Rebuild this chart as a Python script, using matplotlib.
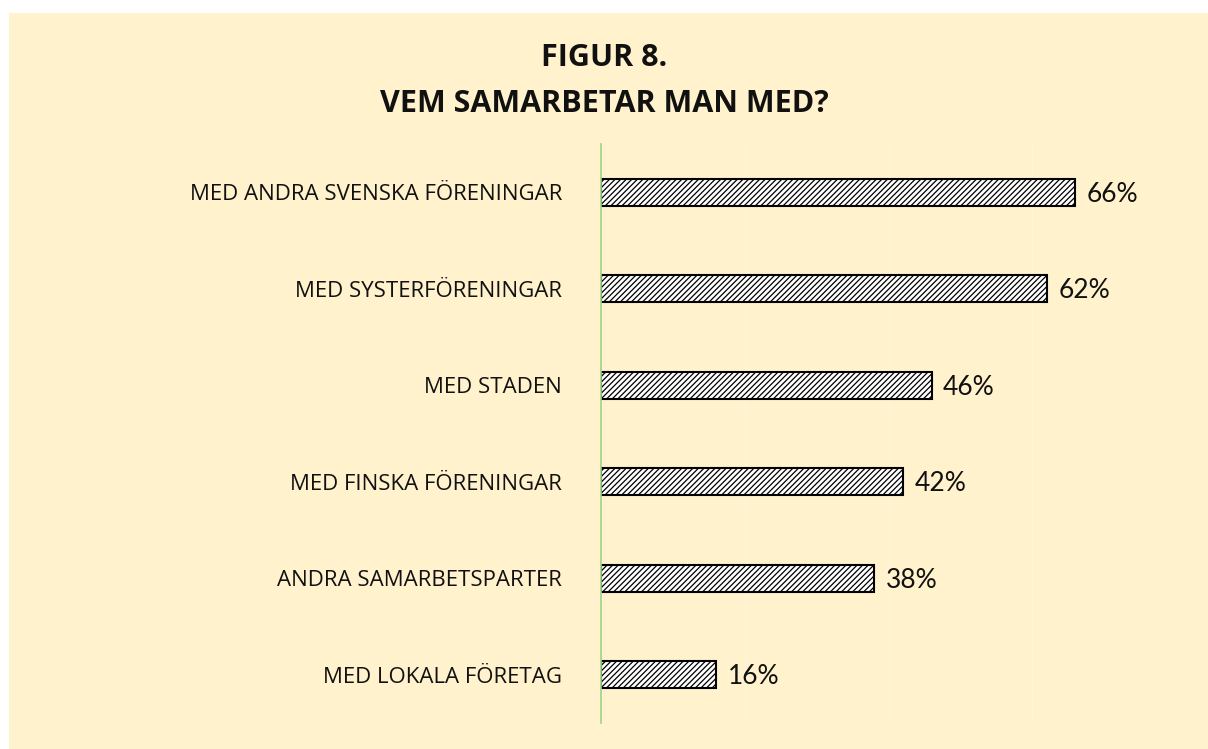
import matplotlib.pyplot as plt
from matplotlib.patches import Rectangle

# data, top to bottom as in the chart
categories = ["MED ANDRA SVENSKA FÖRENINGAR", "MED SYSTERFÖRENINGAR", "MED STADEN",
              "MED FINSKA FÖRENINGAR", "ANDRA SAMARBETSPARTER", "MED LOKALA FÖRETAG"]
values = [0.66, 0.62, 0.46, 0.42, 0.38, 0.16]
value_labels = ["66%", "62%", "46%", "42%", "38%", "16%"]
x_ticks = [0.0, 0.2, 0.4, 0.6, 0.8]

W, H = 1208, 749
fig = plt.figure(figsize=(W / 100, H / 100), dpi=100, facecolor="white")

# yellow panel behind the whole chart
panel = Rectangle((9 / W, 0), 1 - 9 / W, 1 - 13 / H, transform=fig.transFigure,
                  facecolor="#FFF2CC", edgecolor="none", zorder=-1)
fig.patches.append(panel)

fig.text(0.5, 1 - 58 / H, "FIGUR 8.", ha="center", va="center",
         fontsize=22, fontweight="bold", family="Open Sans", color="#111111")
fig.text(0.5, 1 - 104 / H, "VEM SAMARBETAR MAN MED?", ha="center", va="center",
         fontsize=22, fontweight="bold", family="Open Sans", color="#111111")

ax = fig.add_axes([601 / W, 1 - 723 / H, (1176 - 601) / W, (723 - 144) / H])
ax.set_facecolor("none")

plt.rcParams["hatch.linewidth"] = 0.9
ypos = list(range(len(categories)))
bars = ax.barh(ypos, values, height=0.28, color="white", edgecolor="black",
               linewidth=1.5, hatch="//////", zorder=3)

for b, lab in zip(bars, value_labels):
    ax.text(b.get_width() + 0.016, b.get_y() + b.get_height() / 2 + 0.02, lab,
            va="center", ha="left", fontsize=19, family="Lato", color="#111111")

ax.set_xlim(0, 0.8)
ax.set_ylim(len(categories) - 0.5, -0.5)
ax.set_xticks(x_ticks)
ax.set_xticklabels([])
ax.tick_params(axis="x", length=0)
ax.grid(axis="x", color="#FFF5DA", linewidth=1.0, zorder=1)

ax.set_yticks(ypos)
ax.set_yticklabels(categories, fontsize=16, family="Open Sans", color="#111111")
ax.tick_params(axis="y", length=0, pad=28)

for s in ["top", "right", "bottom"]:
    ax.spines[s].set_visible(False)
ax.spines["left"].set_color("#9FD283")
ax.spines["left"].set_linewidth(1.2)
ax.spines["left"].set_zorder(4)

fig.savefig("out.png", dpi=100, facecolor="white")
